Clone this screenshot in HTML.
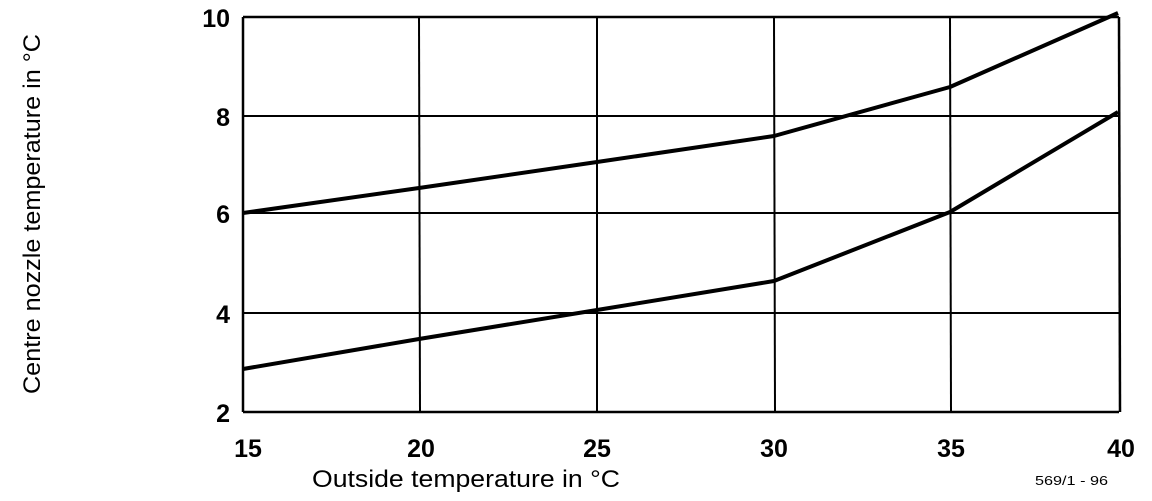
<!DOCTYPE html>
<html><head><style>
body{margin:0;background:#fff;width:1152px;height:496px;overflow:hidden}
</style></head><body>
<svg width="1152" height="496" xmlns="http://www.w3.org/2000/svg" font-family="Liberation Sans, sans-serif">
<g stroke="#000" stroke-width="2" fill="none">
<line x1="243" y1="17" x2="1119" y2="17" stroke-width="2.5"/>
<line x1="243" y1="116" x2="1119" y2="116"/>
<line x1="243" y1="213" x2="1119" y2="213"/>
<line x1="243" y1="313" x2="1119" y2="313"/>
<line x1="243" y1="412" x2="1119" y2="412" stroke-width="2.5"/>
<line x1="243" y1="17" x2="243" y2="412" stroke-width="2.5"/>
<line x1="419" y1="17" x2="420" y2="412"/>
<line x1="597" y1="17" x2="597" y2="412"/>
<line x1="774" y1="17" x2="775" y2="412"/>
<line x1="950" y1="17" x2="951" y2="412"/>
<line x1="1119" y1="17" x2="1120" y2="412" stroke-width="2.5"/>
</g>
<g stroke="#000" stroke-width="4" fill="none" stroke-linejoin="round">
<polyline points="243,213 419,188 597,162 774,136 950,87 1118,13"/>
<polyline points="243,369 419,339 597,310 774,281 950,212 1118,112"/>
</g>
<g font-weight="bold" font-size="25" text-anchor="end">
<text x="230" y="27">10</text>
<text x="230" y="126">8</text>
<text x="230" y="223">6</text>
<text x="230" y="323">4</text>
<text x="230" y="422">2</text>
</g>
<g font-weight="bold" font-size="25" text-anchor="middle">
<text x="248" y="457">15</text>
<text x="421" y="457">20</text>
<text x="597" y="457">25</text>
<text x="774" y="457">30</text>
<text x="951" y="457">35</text>
<text x="1121" y="457">40</text>
</g>
<text x="312" y="487" font-size="24" textLength="308" lengthAdjust="spacingAndGlyphs">Outside temperature in °C</text>
<text transform="translate(40,394) rotate(-90)" font-size="24" textLength="360" lengthAdjust="spacingAndGlyphs">Centre nozzle temperature in °C</text>
<text x="1035" y="485" font-size="13" textLength="73" lengthAdjust="spacingAndGlyphs">569/1 - 96</text>
</svg>
</body></html>
